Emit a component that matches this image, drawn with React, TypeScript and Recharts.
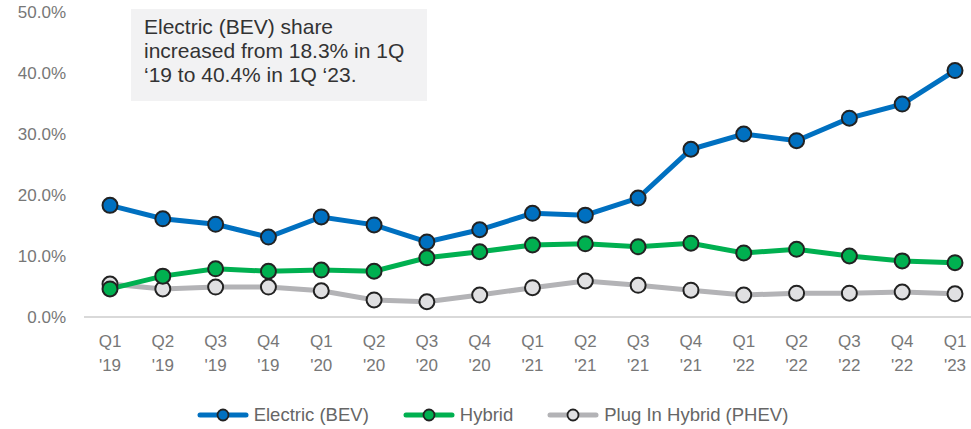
import { LineChart, Line, XAxis, YAxis, Legend } from 'recharts'

const quarters = ['Q1', 'Q2', 'Q3', 'Q4', 'Q1', 'Q2', 'Q3', 'Q4', 'Q1', 'Q2', 'Q3', 'Q4', 'Q1', 'Q2', 'Q3', 'Q4', 'Q1']
const years = ["'19", "'19", "'19", "'19", "'20", "'20", "'20", "'20", "'21", "'21", "'21", "'21", "'22", "'22", "'22", "'22", "'23"]
const bev = [18.3, 16.1, 15.2, 13.1, 16.4, 15.1, 12.3, 14.3, 17.0, 16.7, 19.5, 27.5, 30.0, 28.9, 32.6, 34.9, 40.4]
const hybrid = [4.6, 6.7, 7.9, 7.5, 7.7, 7.5, 9.7, 10.7, 11.8, 12.0, 11.5, 12.1, 10.5, 11.1, 10.0, 9.2, 8.9]
const phev = [5.4, 4.6, 4.9, 4.9, 4.3, 2.8, 2.5, 3.6, 4.8, 5.9, 5.2, 4.4, 3.6, 3.9, 3.9, 4.1, 3.8]
const yTicks = [0, 10, 20, 30, 40, 50]
const note = ['Electric (BEV) share', 'increased from 18.3% in 1Q', '\u201819 to 40.4% in 1Q \u201823.']

const data = quarters.map((q, i) => ({ q, yr: years[i], key: i, bev: bev[i], hybrid: hybrid[i], phev: phev[i] }))

const seriesList = [
  { key: 'bev', name: 'Electric (BEV)', color: '#0070c0', dot: '#0070c0' },
  { key: 'hybrid', name: 'Hybrid', color: '#00b050', dot: '#00b050' },
  { key: 'phev', name: 'Plug In Hybrid (PHEV)', color: '#b3b3b6', dot: '#e0e0e2' },
]

const font = '"Liberation Sans", Arial, sans-serif'

function XTick({ x, y, payload }: any) {
  const d = data[payload.value]
  return (
    <g transform={`translate(${x},${y})`}>
      <text textAnchor="middle" fill="#777" fontSize={17} fontFamily={font}>
        <tspan x={0} dy={22}>{d.q}</tspan>
        <tspan x={0} dy={24}>{d.yr}</tspan>
      </text>
    </g>
  )
}

function LegendContent() {
  return (
    <div style={{ display: 'flex', justifyContent: 'center', gap: 34, fontFamily: font, fontSize: 18.5, color: '#666', paddingTop: 15, paddingLeft: 14 }}>
      {seriesList.map((s) => (
        <div key={s.key} style={{ display: 'flex', alignItems: 'center' }}>
          <svg width={52} height={16} style={{ marginRight: 5 }}>
            <line x1={3} y1={8} x2={49} y2={8} stroke={s.color} strokeWidth={5} strokeLinecap="round" />
            <circle cx={26} cy={8} r={5.5} fill={s.dot} stroke="#222" strokeWidth={1.8} />
          </svg>
          <span>{s.name}</span>
        </div>
      ))}
    </div>
  )
}

export default function App() {
  return (
    <div style={{ position: 'absolute', left: 0, top: 0, width: 971, height: 429 }}>
      <LineChart width={971} height={429} data={data} margin={{ top: 12, right: 0, bottom: 0, left: 0 }}>
        <XAxis
          dataKey="key"
          tick={<XTick />}
          tickLine={false}
          axisLine={{ stroke: '#d9d9d9', strokeWidth: 2 }}
          padding={{ left: 26, right: 16 }}
          height={72}
          interval={0}
        />
        <YAxis
          domain={[0, 50]}
          ticks={yTicks}
          width={84}
          axisLine={false}
          tickLine={false}
          tickFormatter={(v: number) => `${v.toFixed(1)}%`}
          tick={{ fill: '#777', fontSize: 17, fontFamily: font, dx: -10 }}
        />
        <Legend verticalAlign="bottom" height={40} content={<LegendContent />} />
        {seriesList.map((s) => (
          <Line
            key={s.key}
            dataKey={s.key}
            name={s.name}
            stroke={s.color}
            strokeWidth={5}
            dot={{ r: 7.5, fill: s.dot, stroke: '#222', strokeWidth: 2 }}
            activeDot={false}
            isAnimationActive={false}
          />
        )).reverse()}
      </LineChart>
      <div
        style={{
          position: 'absolute',
          left: 131,
          top: 9,
          width: 296,
          height: 92,
          background: '#f2f2f3',
          boxSizing: 'border-box',
          padding: '6px 0 0 13px',
          fontFamily: font,
          fontSize: 21,
          lineHeight: '24px',
          color: '#333',
        }}
      >
        {note.map((t) => (
          <div key={t}>{t}</div>
        ))}
      </div>
    </div>
  )
}
